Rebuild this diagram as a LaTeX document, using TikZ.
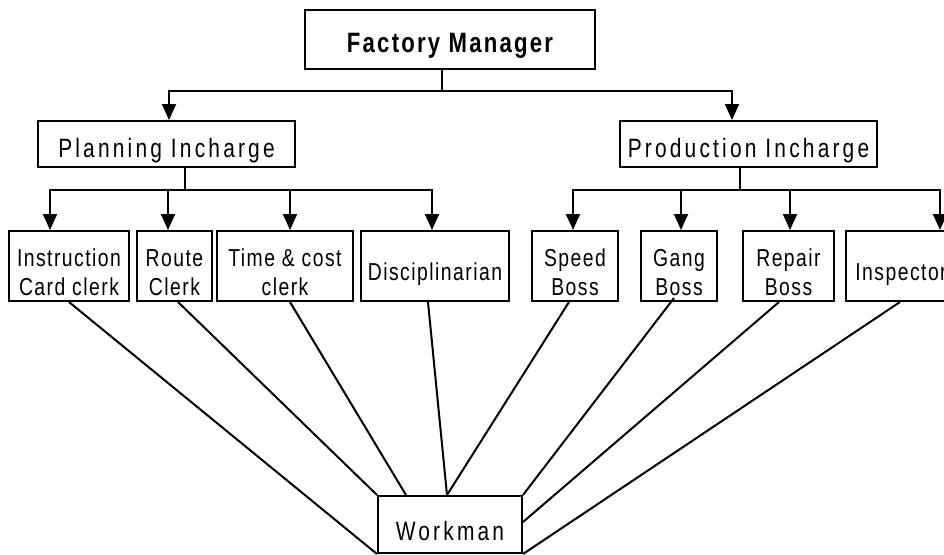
\documentclass[tikz,border=0pt]{standalone}
\usepackage{fontspec}
\newfontfamily\headfont{Liberation Sans}[FakeStretch=0.79, LetterSpace=12]
\newfontfamily\cellfont{Liberation Sans}[FakeStretch=0.79, LetterSpace=6]
\newfontfamily\topfont{Liberation Sans Bold}[FakeStretch=0.79, LetterSpace=8]
\usepackage{tikz}
\usetikzlibrary{positioning, arrows.meta, calc}

\begin{document}
\begin{tikzpicture}[
    x=1pt, y=-1pt,
    box/.style={draw, line width=2pt, rectangle, inner sep=0pt, align=center, text depth=0pt, font=\cellfont\fontsize{24.5}{29}\selectfont},
    head/.style={box, font=\headfont\fontsize{26.5}{30}\selectfont},
    arr/.style={-{Triangle[width=14pt,length=16pt]}, line width=2pt},
    link/.style={line width=2pt}
]
    \useasboundingbox (0,0) rectangle (944,554);

    % Top level
    \node[head, font=\topfont\fontsize{28}{30}\selectfont, minimum width=290, minimum height=59, text height=25] (fm) at (450,39.5) {Factory Manager};

    % Incharges
    \node[head, minimum width=257, minimum height=46, text height=26] (plan) at (166.5,144) {Planning Incharge};
    \node[head, minimum width=257, minimum height=46, text height=26] (prod) at (748.5,144) {Production Incharge};

    % Functional foremen (left: planning, right: production)
    \node[box, minimum width=120, minimum height=70, text height=58] (inst) at (69,266) {Instruction\\Card clerk};
    \node[box, minimum width=75, minimum height=70, text height=58] (route) at (174.5,266) {Route\\Clerk};
    \node[box, minimum width=136, minimum height=70, text height=58] (time) at (285,266) {Time \& cost\\clerk};
    \node[box, minimum width=148, minimum height=70, text height=28] (disc) at (435,266) {Disciplinarian};
    \node[box, minimum width=86, minimum height=70, text height=58] (speed) at (575,266) {Speed\\Boss};
    \node[box, minimum width=76, minimum height=70, text height=58] (gang) at (679,266) {Gang\\Boss};
    \node[box, minimum width=91, minimum height=70, text height=58] (repair) at (788.5,266) {Repair\\Boss};
    \node[box, minimum width=110, minimum height=70, text height=28] (insp) at (901,266) {Inspector};

    % Workman
    \node[head, minimum width=144, minimum height=57, text height=31] (wm) at (450,524.5) {Workman};

    % Manager to incharges
    \draw[link] ([xshift=-8]fm.south) -- ++(0,21) coordinate (fmbus);
    \draw[arr] (fmbus) -| ([xshift=2.5]plan.north);
    \draw[arr] (fmbus) -| ([xshift=-16.5]prod.north);

    % Incharges to foremen
    \draw[link] ([xshift=18.5]plan.south) -- ++(0,22) coordinate (planbus);
    \foreach \c/\s in {inst/-19, route/-6.5, time/5, disc/-3} {
        \draw[arr] (planbus) -| ([xshift=\s]\c.north);
    }
    \draw[link] ([xshift=-8.5]prod.south) -- ++(0,22) coordinate (prodbus);
    \foreach \c/\s in {speed/-2, gang/2, repair/1.5, insp/39} {
        \draw[arr] (prodbus) -| ([xshift=\s]\c.north);
    }

    % Foremen to workman
    \draw[link] (inst.south) -- (wm.south west);
    \draw[link] ([xshift=3.5]route.south) -- (wm.north west);
    \draw[link] ([xshift=5]time.south) -- ([xshift=29]wm.north west);
    \draw[link] ([xshift=-7]disc.south) -- ([xshift=-3]wm.north);
    \draw[link] ([xshift=-6]speed.south) -- ([xshift=-3]wm.north);
    \draw[link] ([xshift=-5,yshift=4]gang.south) -- (wm.north east);
    \draw[link] ([xshift=-9.5]repair.south) -- ([yshift=2.5]wm.east);
    \draw[link] ([xshift=-1]insp.south) -- (wm.south east);

\end{tikzpicture}
\end{document}
